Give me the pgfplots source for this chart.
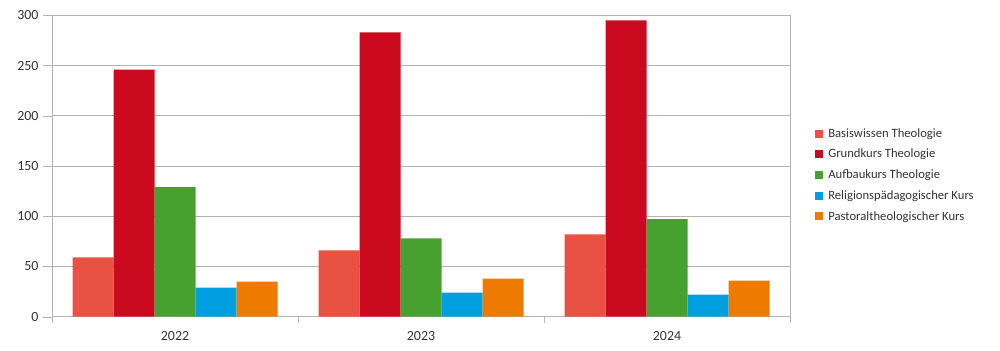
\documentclass[border=0pt]{standalone}
\usepackage{pgfplots}
\pgfplotsset{compat=1.18}
\usepackage{fontspec}
\setmainfont{Carlito}
\definecolor{cBasis}{HTML}{E95242}
\definecolor{cGrund}{HTML}{CC0A1F}
\definecolor{cAuf}{HTML}{47A12F}
\definecolor{cRel}{HTML}{009FE0}
\definecolor{cPast}{HTML}{EE7A00}
\definecolor{gridc}{HTML}{B3B3B3}
\definecolor{txt}{HTML}{333333}
\begin{document}
\begin{tikzpicture}
\begin{axis}[
  at={(0,0)}, anchor=south west,
  scale only axis,
  width=738bp, height=301.4bp,
  xmin=-0.5, xmax=2.5, ymin=0, ymax=300,
  ybar=0pt, bar width=41bp,
  xtick={0,1,2}, xticklabels={2022,2023,2024},
  minor xtick={-0.5,0.5,1.5,2.5},
  ytick={0,50,...,300},
  /pgf/number format/assume math mode=true,
  tick align=outside,
  major tick length=9bp, minor tick length=6bp,
  major x tick style={draw=none},
  minor x tick style={gridc},
  ytick style={gridc},
  tick pos=left,
  ymajorgrids, grid style={gridc, line width=0.8bp},
  axis line style={gridc, line width=0.8bp},
  ticklabel style={font=\fontsize{14}{16}\selectfont, text=txt},
  xticklabel style={yshift=-2bp},
  yticklabel style={xshift=-1bp},
  legend style={at={(1.034,0.47)}, anchor=west, draw=none, fill=none,
    font=\fontsize{12.7}{14}\selectfont, text=txt, row sep=6.4bp,
    inner sep=0pt},
  legend cell align=left,
  legend image code/.code={\fill[#1] (0bp,-4bp) rectangle (8bp,4bp); \path (11bp,0bp);},
]
\addplot[fill=cBasis, draw=none, bar shift=-82bp] coordinates {(0,59) (1,66) (2,82)};
\addplot[fill=cGrund, draw=none, bar shift=-41bp] coordinates {(0,246) (1,283) (2,295)};
\addplot[fill=cAuf, draw=none, bar shift=0bp] coordinates {(0,129) (1,78) (2,97)};
\addplot[fill=cRel, draw=none, bar shift=41bp] coordinates {(0,29) (1,24) (2,22)};
\addplot[fill=cPast, draw=none, bar shift=82bp] coordinates {(0,35) (1,38) (2,36)};
\legend{Basiswissen Theologie, Grundkurs Theologie, Aufbaukurs Theologie, Religionspädagogischer Kurs, Pastoraltheologischer Kurs}
\end{axis}
\path[use as bounding box] (-52bp,-34.3bp) rectangle (948bp,316.7bp);
\end{tikzpicture}
\end{document}
